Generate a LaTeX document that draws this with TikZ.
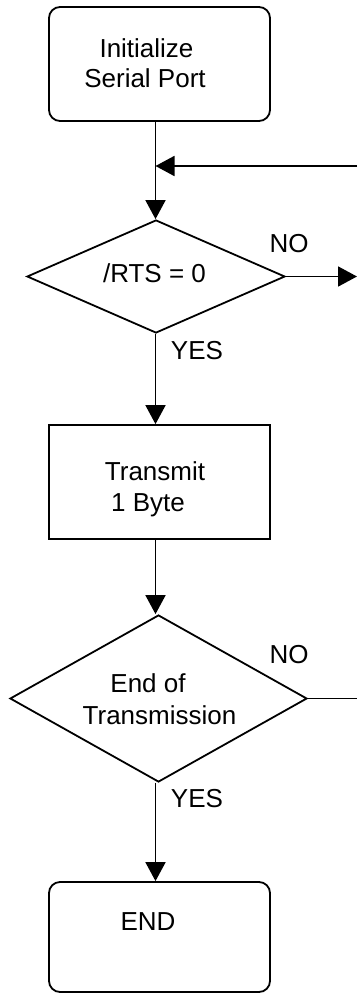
\documentclass[tikz,border=0pt]{standalone}
\usepackage{fontspec}
\setmainfont{Liberation Sans}
\usetikzlibrary{shapes.geometric,arrows.meta}
\begin{document}
\begin{tikzpicture}[x=1pt,y=-1pt,line width=1.8pt,
  box/.style={draw,rectangle,minimum width=221pt,minimum height=114pt,inner sep=0pt},
  term/.style={box,rounded corners=11pt},
  dec/.style={draw,diamond,inner sep=0pt},
  txt/.style={font=\fontsize{26}{30}\selectfont,inner sep=0pt,anchor=base},
  arr/.style={-{Triangle[length=19pt,width=20pt]}}]
\useasboundingbox (0,0) rectangle (357,994);
% shapes
\node[term] (init) at (159.5,64) {};
\node[dec,minimum width=258pt,minimum height=113pt] (rts) at (156,276.5) {};
\node[box] (tx) at (159.5,482) {};
\node[dec,minimum width=297pt,minimum height=167pt] (eot) at (158.5,698.5) {};
\node[term,minimum height=110pt] (fin) at (159.5,937) {};
% texts
\node[txt] (t1a) at (146.5,57) {Initialize};
\node[txt] (t1b) at (145,87) {Serial Port};
\node[txt] (t2) at (154.5,282) {/RTS = 0};
\node[txt] (no1) at (289,252) {NO};
\node[txt] (yes1) at (197,359) {YES};
\node[txt] (t3a) at (155,480) {Transmit};
\node[txt] (t3b) at (148,511) {1 Byte};
\node[txt] (t4a) at (148,692) {End of};
\node[txt] (t4b) at (159.5,724) {Transmission};
\node[txt] (no2) at (289,663) {NO};
\node[txt] (yes2) at (197,807) {YES};
\node[txt] (t5) at (148,930) {END};
% connectors
\coordinate (colx) at (155.5,0);
\coordinate (loopin) at (357,166);
\coordinate (noout) at (357,276.5);
\coordinate (eotout) at (357,698.5);
\draw[arr] (init.south -| colx) -- (rts.north -| colx);
\draw[arr] (loopin) -- (loopin -| colx);
\draw[arr] (rts.east) -- (noout);
\draw[arr] (rts.south -| colx) -- (tx.north -| colx);
\draw[arr] (tx.south -| colx) -- (eot.north -| colx);
\draw (eot.east) -- (eotout);
\draw[arr] (eot.south -| colx) -- (fin.north -| colx);
\end{tikzpicture}
\end{document}
